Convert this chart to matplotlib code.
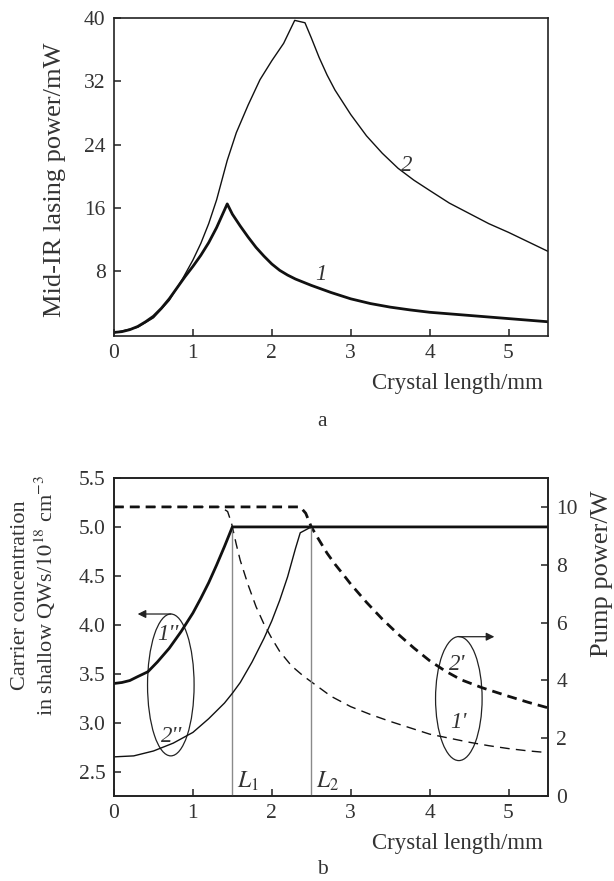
import numpy as np
import matplotlib
matplotlib.use("Agg")
import matplotlib.pyplot as plt
from matplotlib.patches import Ellipse

plt.rcParams['font.family'] = ['Liberation Serif', 'DejaVu Serif']
plt.rcParams['mathtext.fontset'] = 'stix'

# ---------- data: panel a ----------
len_a1 = [0.0, 0.1, 0.2, 0.3, 0.4, 0.5, 0.6, 0.7, 0.8, 0.9, 1.0, 1.1, 1.2, 1.3, 1.435,
          1.5, 1.6, 1.7, 1.8, 1.9, 2.0, 2.1, 2.2, 2.3, 2.5, 2.75, 3.0, 3.25, 3.5, 3.75,
          4.0, 4.5, 5.0, 5.5]
pow_a1 = [0.25, 0.35, 0.6, 1.0, 1.6, 2.3, 3.3, 4.5, 5.9, 7.3, 8.6, 10.0, 11.6, 13.5, 16.5,
          15.2, 13.7, 12.3, 11.0, 9.9, 8.9, 8.1, 7.5, 7.0, 6.2, 5.3, 4.5, 3.9, 3.45, 3.1,
          2.8, 2.4, 2.0, 1.6]
len_a2 = [0.0, 0.3, 0.5, 0.7, 0.87, 1.0, 1.1, 1.2, 1.3, 1.435, 1.55, 1.7, 1.85, 2.0, 2.15,
          2.29, 2.42, 2.5, 2.6, 2.7, 2.8, 3.0, 3.2, 3.4, 3.6, 3.8, 4.0, 4.25, 4.5, 4.75,
          5.0, 5.25, 5.5]
pow_a2 = [0.2, 0.9, 2.1, 4.3, 7.05, 9.4, 11.5, 14.0, 17.0, 22.0, 25.5, 29.0, 32.2, 34.6, 36.8,
          39.7, 39.4, 37.5, 35.0, 32.8, 30.9, 27.8, 25.1, 22.9, 21.0, 19.5, 18.2, 16.6, 15.3, 14.0,
          12.9, 11.7, 10.5]

# ---------- data: panel b ----------
len_c1 = [0.0, 0.1, 0.2, 0.3, 0.43, 0.55, 0.7, 0.85, 1.0, 1.1, 1.2, 1.3, 1.4, 1.5, 5.5]
conc_c1 = [3.40, 3.41, 3.43, 3.47, 3.52, 3.62, 3.76, 3.93, 4.12, 4.27, 4.43, 4.61, 4.80, 5.0, 5.0]
len_c2 = [0.0, 0.25, 0.5, 0.75, 1.0, 1.2, 1.4, 1.5, 1.6, 1.75, 1.9, 2.0, 2.1, 2.2, 2.3, 2.36, 2.5, 5.5]
conc_c2 = [2.65, 2.66, 2.71, 2.79, 2.90, 3.04, 3.20, 3.30, 3.41, 3.62, 3.86, 4.04, 4.25, 4.49, 4.78,
           4.94, 5.0, 5.0]
len_p1 = [0.0, 1.35, 1.44, 1.49, 1.55, 1.6, 1.7, 1.8, 1.9, 2.0, 2.1, 2.25, 2.4, 2.5, 2.75, 3.0,
          3.25, 3.5, 3.75, 4.0, 4.25, 4.5, 4.75, 5.0, 5.25, 5.5]
pump_p1 = [10.0, 10.0, 9.84, 9.43, 8.7, 8.15, 7.3, 6.55, 5.95, 5.45, 5.0, 4.5, 4.15, 3.95, 3.45, 3.09,
           2.82, 2.58, 2.36, 2.14, 2.0, 1.86, 1.74, 1.64, 1.56, 1.5]
len_p2 = [0.0, 2.36, 2.43, 2.5, 2.6, 2.7, 2.8, 2.9, 3.0, 3.2, 3.4, 3.6, 3.8, 4.0, 4.2, 4.4,
          4.67, 5.0, 5.25, 5.5]
pump_p2 = [10.0, 10.0, 9.78, 9.31, 8.85, 8.4, 8.02, 7.68, 7.33, 6.7, 6.12, 5.6, 5.12, 4.68, 4.32, 4.02,
           3.74, 3.45, 3.24, 3.05]
L_marks = [1.5, 2.5]
L_labels = [r'$L_1$', r'$L_2$']

x_ticks = [0, 1, 2, 3, 4, 5]
ya_ticks = [8, 16, 24, 32, 40]
yb_ticks = [2.5, 3.0, 3.5, 4.0, 4.5, 5.0, 5.5]
yr_ticks = [0, 2, 4, 6, 8, 10]

W, H = 614, 881
fig = plt.figure(figsize=(W / 100, H / 100), dpi=100)

def rect(l, r, t, b):
    return [l / W, 1 - b / H, (r - l) / W, (b - t) / H]

TICK_FS = 15.5
LAB_FS = 16.5
TXT = '#333333'

def style(ax):
    for s in ax.spines.values():
        s.set_linewidth(1.2)
        s.set_color('#222222')
    ax.tick_params(direction='in', length=5, width=1.1, labelsize=TICK_FS, colors='#222222',
                   labelcolor=TXT, pad=6)

# ---------- panel a ----------
ax1 = fig.add_axes(rect(114, 548, 18, 336))
ax1.plot(len_a2, pow_a2, color='#111111', lw=1.0)
ax1.plot(len_a1, pow_a1, color='#111111', lw=2.0)
ax1.set_xlim(0, 5.5)
ax1.set_ylim(-0.2, 40)
ax1.set_xticks(x_ticks)
ax1.set_yticks(ya_ticks)
style(ax1)
ax1.set_ylabel('Mid-IR lasing power/mW', fontsize=19, color=TXT)
ax1.yaxis.set_label_coords(-0.11, 0.49)
ax1.text(2.55, 6.9, '1', fontsize=LAB_FS, style='italic', color=TXT)
ax1.text(3.64, 20.6, '2', fontsize=LAB_FS, style='italic', color=TXT)
fig.text(543 / W, 1 - 384 / H, 'Crystal length/mm', ha='right', va='center', fontsize=LAB_FS, color=TXT)
fig.text(322 / W, 1 - 422 / H, 'a', ha='center', va='center', fontsize=LAB_FS - 1, color=TXT)

# ---------- panel b ----------
ax2 = fig.add_axes(rect(114, 548, 478, 796))
ax3 = ax2.twinx()
ax2.set_zorder(ax3.get_zorder() + 1)
ax2.patch.set_visible(False)

for xm in L_marks:
    ax2.plot([xm, xm], [2.25, 5.0], color='#8a8a8a', lw=1.0)
ax2.plot(len_c2, conc_c2, color='#111111', lw=1.0)
ax2.plot(len_c1, conc_c1, color='#111111', lw=2.0)
ax3.plot(len_p1, pump_p1, color='#111111', lw=1.0, dashes=(7, 4.5))
ax3.plot(len_p2, pump_p2, color='#111111', lw=2.0, dashes=(3.5, 2.2))

ax2.set_xlim(0, 5.5)
ax2.set_ylim(2.25, 5.5)
ax3.set_ylim(0, 11)
ax2.set_xticks(x_ticks)
ax2.set_yticks(yb_ticks)
ax2.set_yticklabels([f'{v:.1f}' for v in yb_ticks])
ax3.set_yticks(yr_ticks)
style(ax2)
style(ax3)

for xm, lab in zip(L_marks, L_labels):
    ax2.text(xm + 0.06, 2.33, lab, fontsize=17, color=TXT)

ax2.text(0.55, 3.84, "1''", fontsize=LAB_FS, style='italic', color=TXT)
ax2.text(0.6, 2.8, "2''", fontsize=LAB_FS, style='italic', color=TXT)
ax3.text(4.24, 4.35, "2'", fontsize=LAB_FS, style='italic', color=TXT)
ax3.text(4.26, 2.35, "1'", fontsize=LAB_FS, style='italic', color=TXT)

ax2.add_patch(Ellipse((0.72, 3.385), 0.59, 1.45, fill=False, lw=0.9, edgecolor='#222222'))
ax3.add_patch(Ellipse((4.37, 3.37), 0.59, 4.29, fill=False, lw=0.9, edgecolor='#222222'))
ax2.annotate('', xy=(0.3, 4.11), xytext=(0.72, 4.11),
             arrowprops=dict(arrowstyle='-|>', color='#222222', lw=0.9,
                             mutation_scale=12, shrinkA=0, shrinkB=0))
ax3.annotate('', xy=(4.82, 5.51), xytext=(4.37, 5.51),
             arrowprops=dict(arrowstyle='-|>', color='#222222', lw=0.9,
                             mutation_scale=12, shrinkA=0, shrinkB=0))

ax2.set_ylabel('Carrier concentration\nin shallow QWs/$10^{18}$ cm$^{-3}$', fontsize=16,
               color=TXT, linespacing=1.1)
ax2.yaxis.set_label_coords(-0.13, 0.63)
ax3.set_ylabel('Pump power/W', fontsize=19, color=TXT)
ax3.yaxis.set_label_coords(1.098, 0.70)

fig.text(543 / W, 1 - 844 / H, 'Crystal length/mm', ha='right', va='center', fontsize=LAB_FS, color=TXT)
fig.text(322 / W, 1 - 870 / H, 'b', ha='center', va='center', fontsize=LAB_FS - 1, color=TXT)

fig.savefig('out.png', dpi=100)
